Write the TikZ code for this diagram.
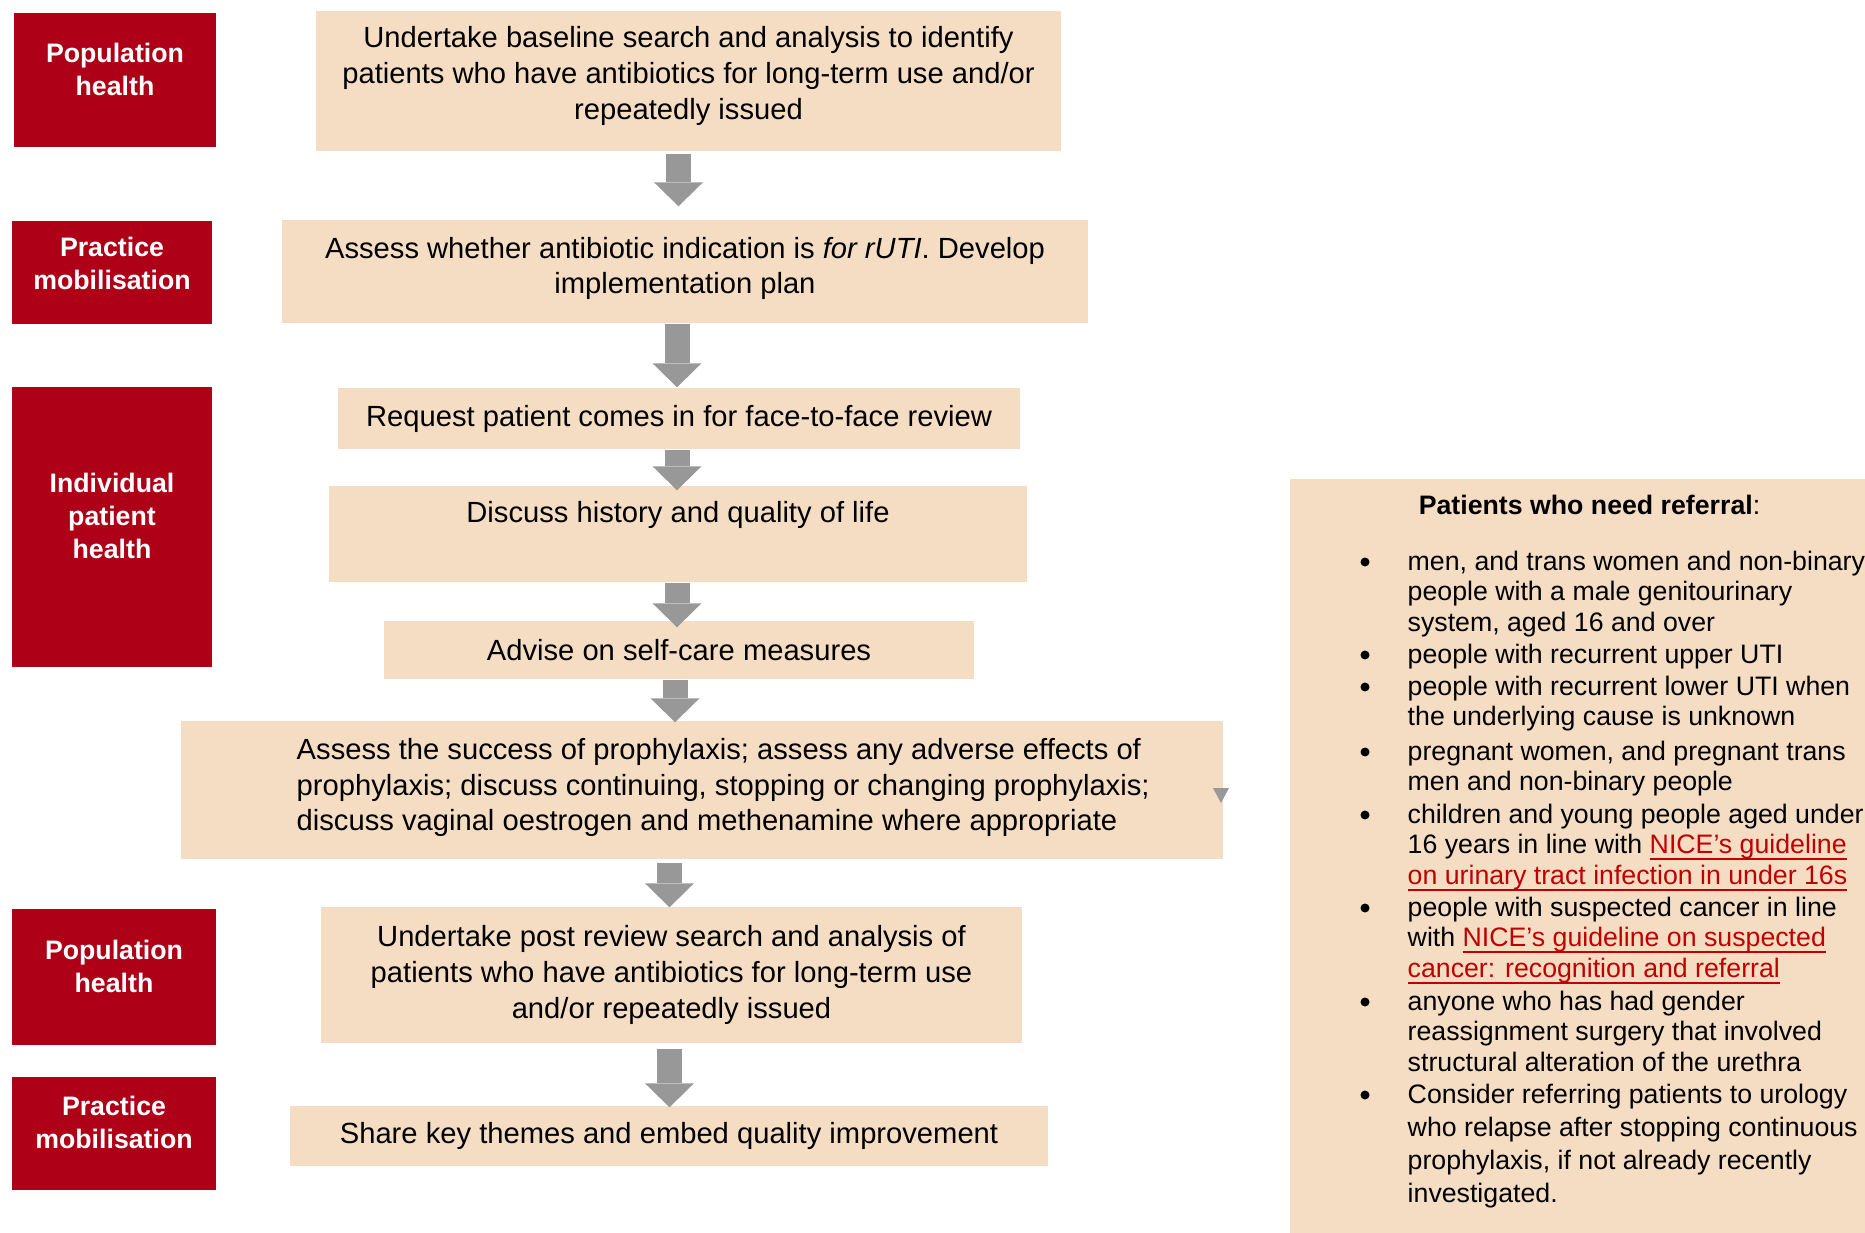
\documentclass[tikz,border=0pt]{standalone}
\usepackage{fontspec}
\setmainfont{Liberation Sans}
\usetikzlibrary{arrows.meta}
\definecolor{phasered}{RGB}{174,0,22}
\definecolor{stepbeige}{RGB}{245,221,196}
\definecolor{arrowgrey}{RGB}{152,152,152}
\definecolor{linkred}{RGB}{192,0,0}
\newcommand{\nicelink}[1]{\textcolor{linkred}{\setbox0\hbox{#1}\rlap{\rule[-1.9pt]{\wd0}{0.55pt}}\box0}}
\tikzset{
  phase/.style={fill=phasered,inner sep=0pt},
  phasetext/.style={text=white,align=center,inner sep=0pt,font=\bfseries\fontsize{7.6}{9.4}\selectfont},
  stepbox/.style={fill=stepbeige,inner sep=0pt,align=center,font=\fontsize{8.3}{10.2}\selectfont},
  steptext/.style={inner sep=0pt,align=left,font=\fontsize{8.3}{10.2}\selectfont},
  flowarrow/.style={arrowgrey,line width=0.25cm,-{Triangle[width=0.49cm,length=0.24cm,line width=0pt]}},
  refitem/.style={anchor=north west,align=left,inner sep=0pt},
}

\begin{document}
\begin{tikzpicture}
\useasboundingbox (0,0) rectangle (18.65,-12.33);

\node[phase,minimum width=2.02cm,minimum height=1.34cm] (ph1) at (1.15,-0.80) {};
\node[phase,minimum width=2.00cm,minimum height=1.03cm] (ph2) at (1.12,-2.725) {};
\node[phase,minimum width=2.00cm,minimum height=2.80cm] (ph3) at (1.12,-5.27) {};
\node[phase,minimum width=2.04cm,minimum height=1.36cm] (ph4) at (1.14,-9.77) {};
\node[phase,minimum width=2.04cm,minimum height=1.13cm] (ph5) at (1.14,-11.335) {};
\node[phasetext] (ph1t) at (1.15,-0.69) {Population\\health};
\node[phasetext] (ph2t) at (1.12,-2.635) {Practice\\mobilisation};
\node[phasetext] (ph3t) at (1.12,-5.16) {Individual\\patient\\health};
\node[phasetext] (ph4t) at (1.14,-9.66) {Population\\health};
\node[phasetext] (ph5t) at (1.14,-11.225) {Practice\\mobilisation};

\node[stepbox,minimum width=7.45cm,minimum height=1.40cm] (s1) at (6.885,-0.81) {};
\node[steptext,align=center] (s1t) at (6.885,-0.76) {Undertake baseline search and analysis to identify\\patients who have antibiotics for long-term use and/or\\repeatedly issued};
\node[stepbox,minimum width=8.06cm,minimum height=1.03cm] (s2) at (6.85,-2.715) {};
\node[steptext,align=center] (s2t) at (6.85,-2.685) {Assess whether antibiotic indication is \textit{for rUTI}. Develop\\implementation plan};
\node[stepbox,minimum width=6.82cm,minimum height=0.61cm] (s3) at (6.79,-4.185) {Request patient comes in for face-to-face review};
\node[stepbox,minimum width=6.98cm,minimum height=0.96cm] (s4) at (6.78,-5.34) {};
\node[steptext] (s4t) at (6.78,-5.15) {Discuss history and quality of life};
\node[stepbox,minimum width=5.90cm,minimum height=0.58cm] (s5) at (6.79,-6.50) {Advise on self-care measures};
\node[stepbox,minimum width=10.42cm,minimum height=1.38cm] (s6) at (7.02,-7.90) {};
\node[steptext,anchor=west] (s6t) at (2.96,-7.876) {Assess the success of prophylaxis; assess any adverse effects of\\prophylaxis; discuss continuing, stopping or changing prophylaxis;\\discuss vaginal oestrogen and methenamine where appropriate};
\node[stepbox,minimum width=7.01cm,minimum height=1.36cm] (s7) at (6.715,-9.75) {Undertake post review search and analysis of\\patients who have antibiotics for long-term use\\and/or repeatedly issued};
\node[stepbox,minimum width=7.58cm,minimum height=0.60cm] (s8) at (6.69,-11.36) {Share key themes and embed quality improvement};

\foreach \a/\b/\x/\s/\t in {s1/s2/6.785/0.13/0.02, s2/s3/6.77/0/0, s3/s4/6.77/-0.05/0, s4/s5/6.77/-0.07/0, s5/s6/6.75/-0.02/0, s6/s7/6.695/-0.01/0.03, s7/s8/6.695/-0.02/0.05}
  \draw[flowarrow,shorten >=\s cm,shorten <=\t cm] (\a.south -| \x,0) -- (\b.north -| \x,0);

\fill[arrowgrey] (12.13,-7.88) -- (12.29,-7.88) -- (12.21,-8.03) -- cycle;

\node[fill=stepbeige,inner sep=0pt,minimum width=5.75cm,minimum height=7.54cm] (ref) at (15.775,-8.56) {};
\node[inner sep=0pt,font=\fontsize{7.6}{8.7}\selectfont] (refhead) at (15.895,-5.05) {\textbf{Patients who need referral}:};
\foreach \n/\y/\lsk/\itemtext in {
  1/5.62/8.7/{men, and trans women and non-binary\\people with a male genitourinary\\system, aged 16 and over},
  2/6.55/8.7/{people with recurrent upper UTI},
  3/6.87/8.7/{people with recurrent lower UTI when\\the underlying cause is unknown},
  4/7.52/8.7/{pregnant women, and pregnant trans\\men and non-binary people},
  5/8.15/8.7/{children and young people aged under\\16 years in line with \nicelink{NICE’s guideline}\\\nicelink{on urinary tract infection in under 16s}},
  6/9.08/8.7/{people with suspected cancer in line\\with \nicelink{NICE’s guideline on suspected}\\\nicelink{cancer: recognition and referral}},
  7/10.02/8.7/{anyone who has had gender\\reassignment surgery that involved\\structural alteration of the urethra},
  8/10.95/9.4/{Consider referring patients to urology\\who relapse after stopping continuous\\prophylaxis, if not already recently\\investigated.}}
{
  \node[refitem,font=\fontsize{7.6}{\lsk}\selectfont] (r\n) at (14.07,{0.12-\y}) {\itemtext};
  \fill (13.65,-\y) circle (0.045);
}
\end{tikzpicture}
\end{document}
